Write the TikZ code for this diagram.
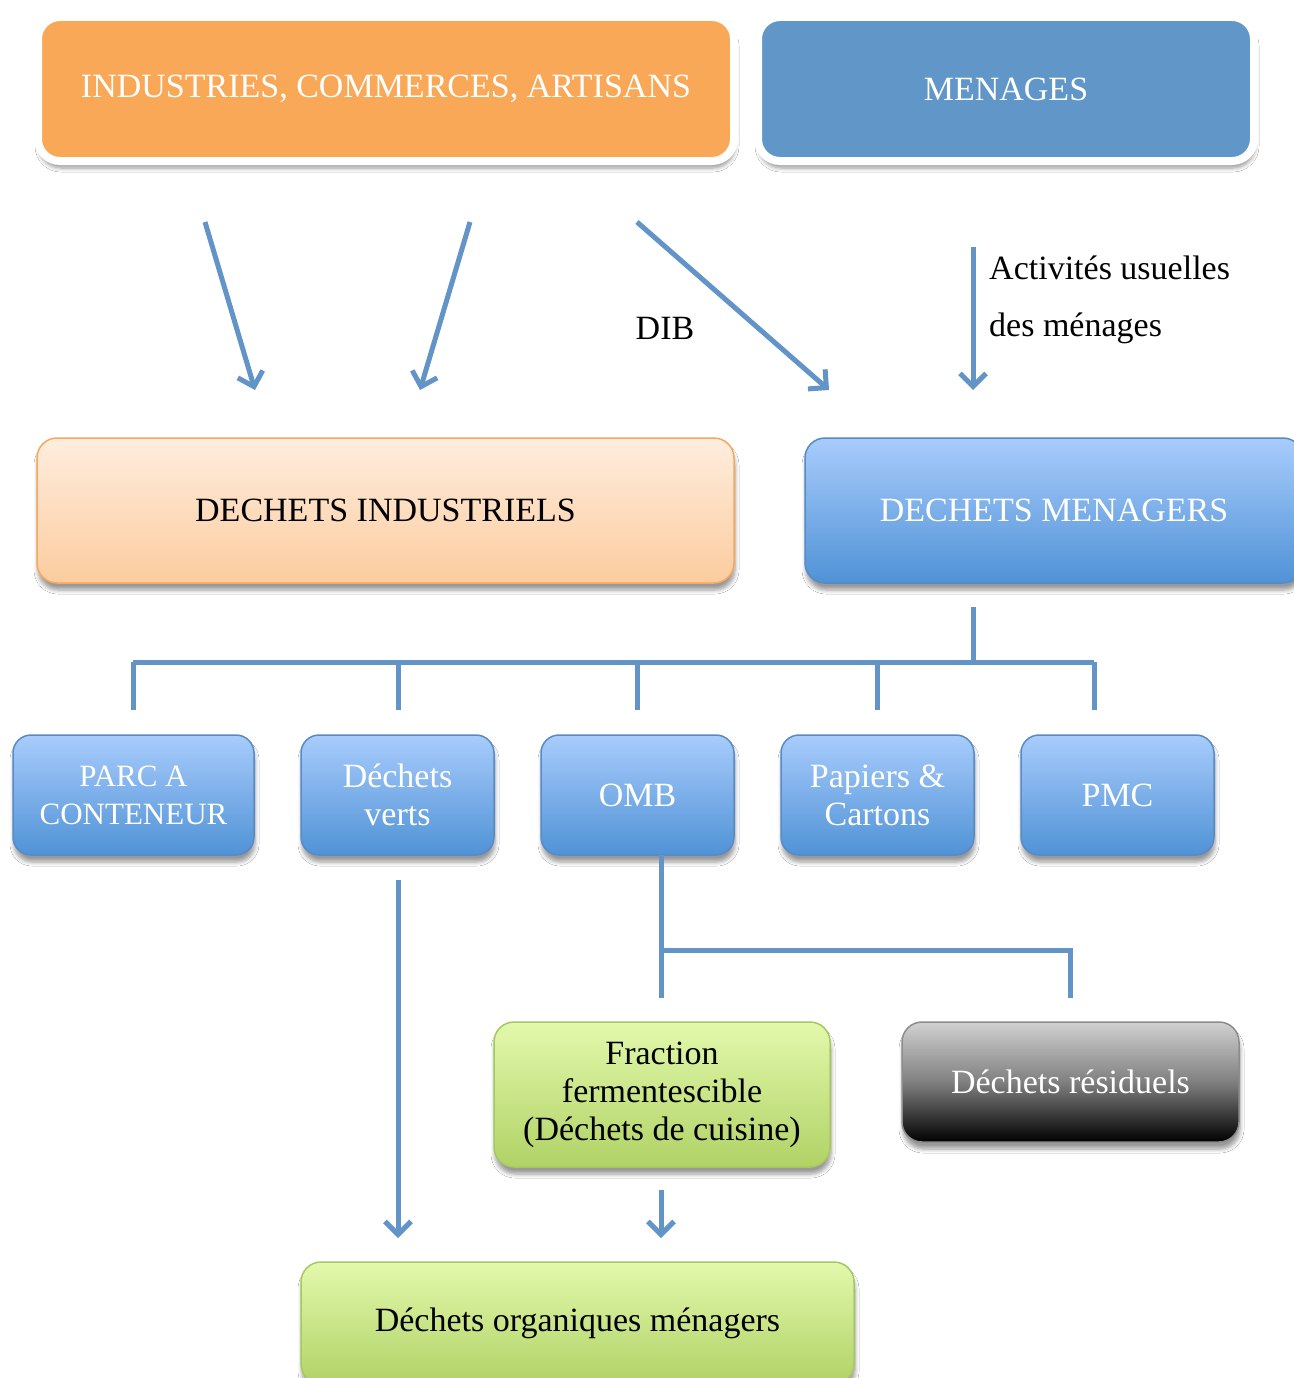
\documentclass[tikz,border=0pt]{standalone}
\usepackage{fontspec}
\setmainfont{Liberation Serif}
\usetikzlibrary{arrows.meta,shadows,shadows.blur,calc}
\definecolor{orangeF}{RGB}{249,168,87}
\definecolor{blueF}{RGB}{97,150,201}
\definecolor{lineC}{RGB}{98,148,200}
\definecolor{peachT}{RGB}{254,237,222}
\definecolor{peachB}{RGB}{252,204,158}
\definecolor{peachD}{RGB}{247,168,90}
\definecolor{blueT}{RGB}{168,204,252}
\definecolor{blueB}{RGB}{80,146,214}
\definecolor{blueD}{RGB}{88,138,198}
\definecolor{greenT}{RGB}{226,249,172}
\definecolor{greenB}{RGB}{177,210,102}
\definecolor{greenD}{RGB}{166,200,96}
\begin{document}
\begin{tikzpicture}[x=1pt,y=-1pt,
  txt/.style={font=\fontsize{34}{38}\selectfont, align=center, inner sep=0pt},
  shad/.style={blur shadow={shadow xshift=1pt, shadow yshift=-7pt, shadow blur steps=6, shadow blur radius=4pt, shadow opacity=40}},
  topbox/.style={txt, shad, rounded corners=22pt, draw=white, line width=8pt, minimum height=144pt, text=white},
  gradbox/.style={txt, shad, rounded corners=20pt, line width=1.5pt},
  bluebox/.style={gradbox, draw=blueD, top color=blueT, bottom color=blueB, text=white},
  smallbox/.style={bluebox, minimum width=193pt, minimum height=120pt, rounded corners=18pt},
  greenbox/.style={gradbox, draw=greenD, top color=greenT, bottom color=greenB, text=black},
  conn/.style={draw=lineC, line width=5pt},
  arr/.style={conn, -{Straight Barb[length=13pt, width=26pt, line width=5pt]}},
  lbl/.style={txt, text=black}
]
\useasboundingbox[fill=white] (0,0) rectangle (1293,1378);

% top row
\node[topbox, fill=orangeF, minimum width=696pt] (ind) at (386,89) {INDUSTRIES, COMMERCES, ARTISANS};
\node[topbox, fill=blueF, minimum width=496pt] (men) at (1006,89) {MENAGES};

% arrows from the top row
\coordinate (a1s) at (205,222); \coordinate (a1e) at (255,390);
\coordinate (a2s) at (470,222); \coordinate (a2e) at (420,390);
\coordinate (a3s) at (637,222); \coordinate (a3e) at (829,390);
\coordinate (a4s) at (973,247); \coordinate (a4e) at (973,390);
\draw[arr] (a1s) -- (a1e);
\draw[arr] (a2s) -- (a2e);
\draw[arr] (a3s) -- (a3e);
\draw[arr] (a4s) -- (a4e);
\node[lbl] (dib) at (665,328) {DIB};
\node[lbl, align=left, anchor=west, font=\fontsize{34}{57}\selectfont] (act) at (989,300) {Activités usuelles\\des ménages};

% second row
\node[gradbox, draw=peachD, top color=peachT, bottom color=peachB, text=black, minimum width=697pt, minimum height=145pt] (di) at (385.5,510.5) {DECHETS INDUSTRIELS};
\node[bluebox, minimum width=498pt, minimum height=145pt] (dm) at (1054,510.5) {DECHETS MENAGERS};

% tree below DECHETS MENAGERS
\coordinate (t0) at (973,607);
\coordinate (t1) at (973,662);
\coordinate (hL) at (133,662);
\coordinate (hR) at (1094,662);
\coordinate (dp) at (133,710);
\coordinate (dv) at (398,710);
\coordinate (do) at (637,710);
\coordinate (dc) at (877,710);
\coordinate (dq) at (1094,710);
\draw[conn] (t0) -- (t1);
\draw[conn] (hL) -- (hR);
\foreach \d in {dp,dv,do,dc,dq} { \draw[conn] (\d |- hL) -- (\d); }

% third row
\node[smallbox, minimum width=241pt, font=\fontsize{31}{38}\selectfont] (parc) at (133.5,795) {PARC A\\CONTENEUR};
\node[smallbox] (verts) at (397.5,795) {Déchets\\verts};
\node[smallbox] (omb) at (637.5,795) {OMB};
\node[smallbox] (pap) at (877.5,795) {Papiers \&\\Cartons};
\node[smallbox] (pmc) at (1117.5,795) {PMC};

% tree below OMB
\coordinate (o0) at (661,855);
\coordinate (o1) at (661,998);
\coordinate (oh) at (661,950);
\coordinate (r0) at (1070,950);
\coordinate (r1) at (1070,998);
\draw[conn] (o0) -- (o1);
\draw[conn] (oh) -- (r0) -- (r1);

% arrows to organic waste
\coordinate (v0) at (398,880); \coordinate (v1) at (398,1238);
\coordinate (f0) at (661,1190); \coordinate (f1) at (661,1238);
\draw[arr] (v0) -- (v1);
\draw[arr] (f0) -- (f1);

% fourth row
\node[greenbox, minimum width=336pt, minimum height=145pt] (frac) at (662,1094.5) {Fraction\\fermentescible\\(Déchets de cuisine)};
\node[gradbox, draw=black!45, top color=black!18, bottom color=black, middle color=black!50, text=white, minimum width=337pt, minimum height=120pt] (res) at (1070.5,1082) {Déchets résiduels};
\node[greenbox, minimum width=553pt, minimum height=122pt] (org) at (577.5,1323) {Déchets organiques ménagers};
\end{tikzpicture}
\end{document}
